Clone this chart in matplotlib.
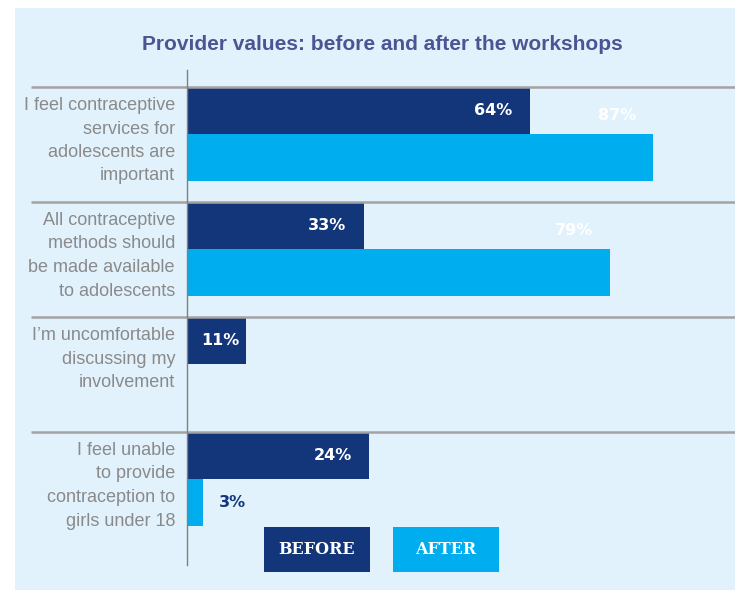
import matplotlib
matplotlib.use("Agg")
import matplotlib.pyplot as plt
from matplotlib.patches import Rectangle

# ---- data ----
categories = [
    "I feel contraceptive\nservices for\nadolescents are\nimportant",
    "All contraceptive\nmethods should\nbe made available\nto adolescents",
    "I\u2019m uncomfortable\ndiscussing my\ninvolvement",
    "I feel unable\nto provide\ncontraception to\ngirls under 18",
]
before_values = [64, 33, 11, 34]          # bar lengths as drawn
after_values = [87, 79, None, 3]
before_labels = ["64%", "33%", "11%", "24%"]
after_labels = ["87%", "79%", None, "3%"]
title = "Provider values: before and after the workshops"
legend_labels = ["BEFORE", "AFTER"]

NAVY = "#13367a"
CYAN = "#00aeef"
PANEL = "#e1f2fc"
GRAY_TXT = "#8a8a8a"
TITLE_C = "#4b5594"

W, H = 735, 590
fig = plt.figure(figsize=(W / 100, H / 100), dpi=100, facecolor="white")

# background panel
fig.patches.append(Rectangle((15 / W, 0), 1 - 15 / W, 1 - 8 / H,
                             transform=fig.transFigure, facecolor=PANEL,
                             edgecolor="none", zorder=-10))

px_per_unit = 5.356
ax_left, ax_right = 187, 735
ax_top, band = 87, 115
n = len(categories)
ax = fig.add_axes([ax_left / W, 1 - (ax_top + n * band) / H,
                   (ax_right - ax_left) / W, n * band / H])
ax.set_zorder(1)
ax.set_facecolor("none")
ax.set_xlim(0, (ax_right - ax_left) / px_per_unit)
ax.set_ylim(n, 0)
ax.axis("off")

bh = 0.41
for i in range(n):
    ax.barh(i, before_values[i], height=bh, align="edge", color=NAVY, zorder=2)
    if after_values[i] is not None:
        ax.barh(i + bh, after_values[i], height=bh, align="edge", color=CYAN, zorder=2)

# separators and axis line
x_sep_left = (31 - ax_left) / px_per_unit
x_sep_right = (ax_right - ax_left) / px_per_unit
for i in range(n):
    ax.plot([x_sep_left, x_sep_right], [i, i], color="#a3a3a3", lw=1.8,
            clip_on=False, zorder=3, solid_capstyle="butt")
ax.plot([0, 0], [-17 / band, n + 18 / band], color="#808080", lw=1.0,
        clip_on=False, zorder=4)

# category labels
for i, c in enumerate(categories):
    ax.text(-12 / px_per_unit, i + 10 / band, c, ha="right", va="top",
            fontsize=13, color=GRAY_TXT, family="Liberation Sans",
            linespacing=1.50, clip_on=False)

# value labels
vfont = dict(fontsize=11.5, fontweight="bold", family="DejaVu Sans")
for i in range(n):
    v = before_values[i]
    off = 3.2 if v > 20 else 1.3
    ax.text(v - off, i + bh / 2, before_labels[i], ha="right", va="center",
            color="white", zorder=5, **vfont)
    a = after_values[i]
    if a is None:
        continue
    if a > 20:
        ax.text(a - 3.2, i + 0.25, after_labels[i], ha="right", va="center",
                color="white", zorder=5, **vfont)
    else:
        ax.text(a + 16 / px_per_unit, i + bh * 1.5, after_labels[i], ha="left",
                va="center", color=NAVY, zorder=5, **vfont)

# title
fig.text(382 / W, 1 - 45 / H, title, ha="center", va="center",
         fontsize=15, fontweight="bold", color=TITLE_C, family="Liberation Sans")

# legend boxes
for lab, col, x0 in zip(legend_labels, [NAVY, CYAN], [264, 393]):
    fig.patches.append(Rectangle((x0 / W, 1 - 572 / H), 106 / W, 45 / H,
                                 transform=fig.transFigure, facecolor=col,
                                 edgecolor="none", zorder=5))
    fig.text((x0 + 53) / W, 1 - 549.5 / H, lab, ha="center", va="center",
             fontsize=11.5, fontweight="bold", family=["DejaVu Serif"],
             color="white", zorder=6)

fig.savefig("out.png", dpi=100, facecolor="white")
